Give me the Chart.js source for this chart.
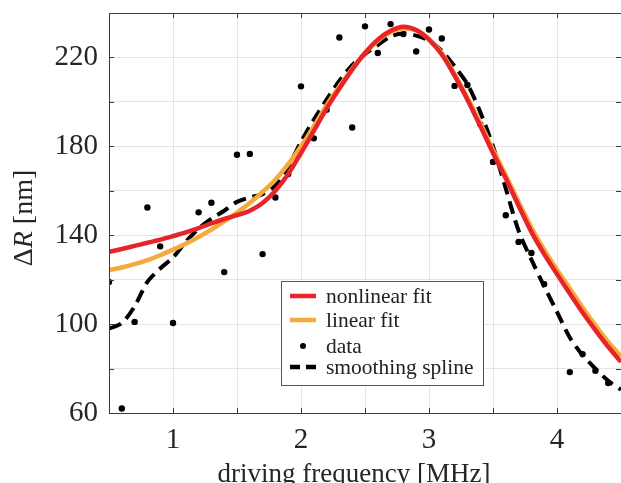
<!DOCTYPE html>
<html>
<head>
<meta charset="utf-8">
<script src="https://cdn.jsdelivr.net/npm/chart.js@4.4.1/dist/chart.umd.min.js"></script>
<style>
html,body{margin:0;padding:0;background:#fff;}
#wrap{position:relative;width:621px;height:483px;overflow:hidden;}
canvas{display:block;}
</style>
</head>
<body>
<div id="wrap"><canvas id="c" width="621" height="483"></canvas></div>
<script>
// ---- data ----
const fitX = [0.5,0.6,0.7,0.8,0.9,1.0,1.1,1.2,1.3,1.4,1.5,1.6,1.7,1.8,1.9,2.0,2.1,2.2,2.3,2.4,2.5,2.6,2.7,2.8,2.9,3.0,3.1,3.2,3.3,3.4,3.5,3.6,3.7,3.8,3.9,4.0,4.1,4.2,4.3,4.4,4.5];
const nonlinearFit = [132.5,133.8,135.2,136.6,138,139.6,141.3,143.2,145.3,147.3,149,151,154.5,160,167.5,177,187,197,206,214.5,222,228,232,233.8,232.3,228,221.3,211.8,201,189.2,177,165.5,153.3,141.5,131.5,122.5,113.8,105.2,97.3,89.8,83];
const linearFit = [124.3,125.5,127,128.8,131,133.5,136.2,139.2,142.5,146.2,150.2,154.5,159.5,165,172,180,189,198.5,207,215,222,227.5,231.3,233,232.2,228.3,222,212.5,202,190.5,178.5,167,155,143.5,133.5,124.5,116,107.5,99.5,92,85.5];
const splineFit = [98,100.5,108,119,125,130,137,143,147.5,151,155,157,158.5,162.5,171,182,192,201,209.5,216.5,221.5,225.5,229.5,230.8,229.8,227.5,223,216,208,195.5,180,161,142,129,117,105.5,94,86,80,74.5,70.5];
const dataX = [0.5,0.6,0.7,0.8,0.9,1.0,1.2,1.3,1.4,1.5,1.6,1.7,1.8,1.9,2.0,2.1,2.2,2.3,2.4,2.5,2.6,2.7,2.8,2.9,3.0,3.1,3.2,3.3,3.4,3.5,3.6,3.7,3.8,3.9,4.1,4.2,4.3,4.4];
const dataY = [119,62,101,152.5,135,100.5,150.3,154.6,123.4,176.2,176.6,131.5,157,167.5,207,183.6,196.5,229,188.5,234,222,235,230.5,222.7,232.6,228.5,207.2,207.6,190,173,149,137,132,118,78.4,86.5,79,73.5];
const xTickLabels = [1,2,3,4];
const yTickLabels = [60,100,140,180,220];
const seriesNames = ['nonlinear fit','linear fit','data','smoothing spline'];
const xTitle = 'driving frequency [MHz]';

const RED = '#e6242a', ORANGE = '#f7aa3c', AXIS = '#3a3a3a', GRID = '#e4e4e4';
const SERIF = '"Liberation Serif", "DejaVu Serif", serif';

const pts = (xs, ys) => xs.map((x, i) => ({x, y: ys[i]}));
const noPad = s => { s.paddingTop = 0; s.paddingBottom = 0; s.paddingLeft = 0; s.paddingRight = 0; };

const decor = {
  id: 'decor',
  afterDraw(chart) {
    const {ctx, chartArea: a, scales: {x, y}} = chart;
    ctx.save();
    ctx.strokeStyle = AXIS; ctx.lineWidth = 1;
    ctx.beginPath();
    ctx.moveTo(a.left + 0.5, a.bottom + 0.5); ctx.lineTo(a.left + 0.5, a.top + 0.5); ctx.lineTo(a.right, a.top + 0.5);
    ctx.moveTo(a.left, a.bottom + 0.5); ctx.lineTo(a.right, a.bottom + 0.5);
    ctx.stroke();
    const tl = 5;
    ctx.beginPath();
    for (let v = 0.5; v <= 4.5001; v += 0.5) {
      const px = Math.round(x.getPixelForValue(v)) + 0.5;
      ctx.moveTo(px, a.bottom); ctx.lineTo(px, a.bottom - tl);
      ctx.moveTo(px, a.top); ctx.lineTo(px, a.top + tl);
    }
    for (let v = 60; v <= 240; v += 20) {
      const py = Math.round(y.getPixelForValue(v)) + 0.5;
      ctx.moveTo(a.left, py); ctx.lineTo(a.left + tl, py);
      ctx.moveTo(a.right, py); ctx.lineTo(a.right - tl, py);
    }
    ctx.stroke();

    ctx.fillStyle = '#262626';
    ctx.font = '27px ' + SERIF;
    ctx.textAlign = 'center'; ctx.textBaseline = 'alphabetic';
    ctx.fillText(xTitle, (a.left + a.right) / 2 - 11, 482);

    ctx.save();
    ctx.translate(32, (a.top + a.bottom) / 2 + 5);
    ctx.rotate(-Math.PI / 2);
    const fN = '28px ' + SERIF, fI = 'italic 28px ' + SERIF;
    const parts = [['Δ', fN], ['R', fI], [' [nm]', fN]];
    let w = 0;
    parts.forEach(p => { ctx.font = p[1]; w += ctx.measureText(p[0]).width; });
    let cx = -w / 2;
    ctx.textAlign = 'left';
    parts.forEach(p => { ctx.font = p[1]; ctx.fillText(p[0], cx, 0); cx += ctx.measureText(p[0]).width; });
    ctx.restore();

    const lx = a.left + 172, ly = a.top + 268, lw = 202, lh = 104;
    ctx.fillStyle = '#fff';
    ctx.fillRect(lx, ly, lw, lh);
    ctx.strokeStyle = '#555'; ctx.lineWidth = 1;
    ctx.strokeRect(lx + 0.5, ly + 0.5, lw, lh);
    const rows = [15, 39, 65, 86];
    const s0 = lx + 9, s1 = lx + 35, tx = lx + 45;
    ctx.lineWidth = 4.5; ctx.lineCap = 'butt';
    ctx.strokeStyle = RED; ctx.beginPath(); ctx.moveTo(s0, ly + rows[0]); ctx.lineTo(s1, ly + rows[0]); ctx.stroke();
    ctx.strokeStyle = ORANGE; ctx.beginPath(); ctx.moveTo(s0, ly + rows[1]); ctx.lineTo(s1, ly + rows[1]); ctx.stroke();
    ctx.fillStyle = '#000'; ctx.beginPath(); ctx.arc((s0 + s1) / 2, ly + rows[2], 3, 0, Math.PI * 2); ctx.fill();
    ctx.strokeStyle = '#000'; ctx.setLineDash([10, 6]); ctx.beginPath(); ctx.moveTo(s0, ly + rows[3]); ctx.lineTo(s1 + 1, ly + rows[3]); ctx.stroke();
    ctx.setLineDash([]);
    ctx.fillStyle = '#222'; ctx.font = '21.5px ' + SERIF; ctx.textBaseline = 'middle'; ctx.textAlign = 'left';
    seriesNames.forEach((n, i) => ctx.fillText(n, tx, ly + rows[i] + 1));
    ctx.restore();
  }
};

new Chart(document.getElementById('c'), {
  type: 'scatter',
  data: {
    datasets: [
      {label: seriesNames[0], data: pts(fitX, nonlinearFit), showLine: true, borderColor: RED, borderWidth: 4.5, pointRadius: 0, tension: 0.3, order: 0},
      {label: seriesNames[1], data: pts(fitX, linearFit), showLine: true, borderColor: ORANGE, borderWidth: 4.5, pointRadius: 0, tension: 0.3, order: 1},
      {label: seriesNames[3], data: pts(fitX, splineFit), showLine: true, borderColor: '#000', borderWidth: 4, borderDash: [13, 7], pointRadius: 0, tension: 0.3, order: 2},
      {label: seriesNames[2], data: pts(dataX, dataY), showLine: false, backgroundColor: '#000', borderColor: '#000', pointRadius: 3.2, pointBorderWidth: 0, order: 3}
    ]
  },
  options: {
    responsive: false, animation: false, devicePixelRatio: 1,
    layout: {autoPadding: false, padding: {top: 13, right: 0, left: 0, bottom: 0}},
    plugins: {legend: {display: false}, tooltip: {enabled: false}},
    scales: {
      x: {
        type: 'linear', min: 0.5, max: 4.5,
        afterFit: s => { s.height = 70; noPad(s); },
        ticks: {stepSize: 0.5, autoSkip: false, maxRotation: 0, padding: 10, color: '#262626',
          font: {family: SERIF, size: 29},
          callback: v => xTickLabels.includes(v) ? String(v) : ''},
        grid: {color: GRID, lineWidth: 1, drawTicks: false},
        border: {display: false}
      },
      y: {
        type: 'linear', min: 60, max: 240,
        afterFit: s => { s.width = 109; noPad(s); },
        ticks: {stepSize: 20, autoSkip: false, padding: 11, color: '#262626',
          font: {family: SERIF, size: 29},
          callback: v => yTickLabels.includes(v) ? String(v) : ''},
        grid: {color: GRID, lineWidth: 1, drawTicks: false},
        border: {display: false}
      }
    }
  },
  plugins: [decor]
});
</script>
</body>
</html>
